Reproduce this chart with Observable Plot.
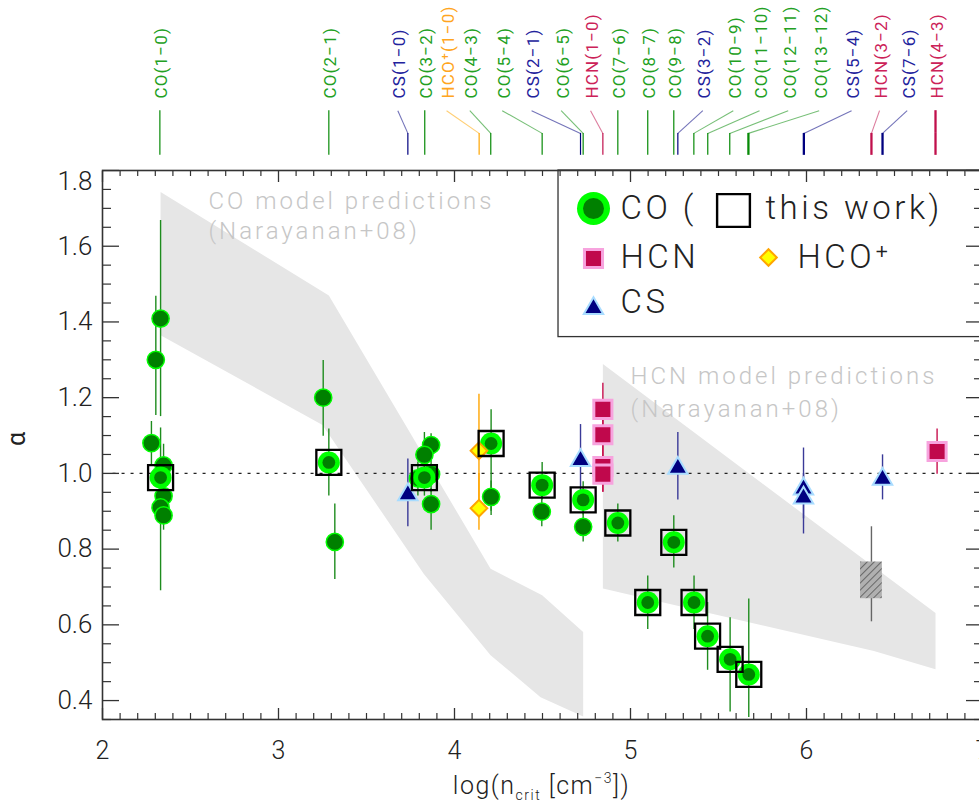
<!DOCTYPE html>
<html><head><meta charset="utf-8">
<script src="https://cdn.jsdelivr.net/npm/d3@7"></script>
<script src="https://cdn.jsdelivr.net/npm/@observablehq/plot@0.6"></script>
<style>
html,body{margin:0;padding:0;background:#fff;overflow:hidden;}
#chart{width:979px;height:805px;overflow:hidden;}
#chart svg{display:block;max-width:none;}
g.toplab text{letter-spacing:1.2px;}
g.note text{letter-spacing:3px;}
g.leg text{letter-spacing:3.5px;}
g.xlab text{letter-spacing:1.5px;}
</style></head><body><div id="chart"></div>
<script>
// ---------- data ----------
// [log n_crit, alpha, lower error, upper error]
const coPts = [
  [2.330,1.409,1.150,1.668],
  [2.303,1.300,1.153,1.468],
  [2.278,1.080,1.020,1.137],
  [2.347,1.021,0.970,1.077],
  [2.347,0.940,0.900,0.980],
  [2.330,0.910,0.870,0.950],
  [2.347,0.889,0.850,0.930],
  [3.254,1.200,1.098,1.298],
  [3.320,0.819,0.720,0.919],
  [3.867,1.075,1.040,1.105],
  [3.829,1.049,1.000,1.108],
  [3.867,0.998,0.950,1.050],
  [3.792,0.987,0.940,1.030],
  [3.867,0.919,0.850,0.960],
  [4.208,0.938,0.900,0.980],
  [4.496,0.899,0.859,0.940],
  [4.731,0.859,0.819,0.900]
];
const thisWorkPts = [
  [2.330,0.989,0.690,1.120],
  [3.286,1.029,0.940,1.117],
  [3.829,0.989,0.940,1.040],
  [4.208,1.079,0.889,1.168],
  [4.498,0.969,0.930,1.029],
  [4.731,0.930,0.890,0.978],
  [4.928,0.869,0.819,0.919],
  [5.098,0.659,0.588,0.729],
  [5.246,0.818,0.750,0.888],
  [5.361,0.659,0.588,0.729],
  [5.438,0.570,0.480,0.659],
  [5.566,0.509,0.370,0.619],
  [5.672,0.469,0.355,0.668]
];
const hcnPts = [
  [4.843,1.169,1.100,1.238],
  [4.843,1.102,1.030,1.170],
  [4.843,1.018,0.950,1.090],
  [4.843,0.998,0.950,1.040],
  [6.742,1.058,0.998,1.117]
];
const csPts = [
  [3.735,0.944,0.859,1.038],
  [4.716,1.034,0.950,1.129],
  [5.269,1.014,0.930,1.108],
  [5.983,0.959,0.880,1.067],
  [5.983,0.935,0.840,1.000],
  [6.432,0.985,0.930,1.049]
];
const hcoPts = [
  [4.139,1.060,0.920,1.209],
  [4.139,0.908,0.850,1.000]
];
// model value shown as hatched box: [x, alpha, lo, hi, boxLo, boxHi]
const modelBoxPts = [[6.369,0.717,0.608,0.859,0.669,0.766]];

// model prediction bands (Narayanan+08), polygon vertices
const coBand = [[2.330,1.743],[3.286,1.470],[4.205,0.748],[4.498,0.678],[4.731,0.581],[4.731,0.358],
                [4.489,0.409],[4.205,0.520],[3.826,0.734],[3.250,1.128],[2.330,1.365]];
const hcnBand = [[4.843,1.289],[6.733,0.631],[6.733,0.483],[6.383,0.531],[4.843,0.696]];

// transitions marked above the plot
const transNames = ["CO(1−0)","CO(2−1)","CS(1−0)","CO(3−2)","HCO⁺(1−0)","CO(4−3)","CO(5−4)","CS(2−1)",
  "CO(6−5)","HCN(1−0)","CO(7−6)","CO(8−7)","CO(9−8)","CS(3−2)","CO(10−9)","CO(11−10)","CO(12−11)",
  "CO(13−12)","CS(5−4)","HCN(3−2)","CS(7−6)","HCN(4−3)"];
const transSpecies = ["CO","CO","CS","CO","HCO","CO","CO","CS","CO","HCN","CO","CO","CO","CS","CO","CO","CO",
  "CO","CS","HCN","CS","HCN"];
const transX = [2.326,3.286,3.735,3.831,4.140,4.206,4.498,4.716,4.731,4.843,4.928,5.098,5.246,5.269,5.360,
  5.439,5.564,5.670,5.985,6.369,6.432,6.733];
const transLabelX = [2.326,3.286,3.678,3.831,3.955,4.087,4.271,4.438,4.606,4.773,4.928,5.098,5.246,5.411,
  5.584,5.733,5.896,6.072,6.256,6.415,6.572,6.733];

const xTicks = [2,3,4,5,6,7];
const yTicks = [0.4,0.6,0.8,1.0,1.2,1.4,1.6,1.8];
const xMinor = d3.range(20,71).map(d => d/10).filter(d => !xTicks.includes(d));
const yMinor = d3.range(7,37).map(d => d*0.05).filter(d => Math.abs(d*5 - Math.round(d*5)) > 1e-6);

const notes = [
  {x:2.602, y:1.697, text:"CO model predictions"},
  {x:2.602, y:1.619, text:"(Narayanan+08)"},
  {x:5.000, y:1.237, text:"HCN model predictions"},
  {x:5.000, y:1.149, text:"(Narayanan+08)"}
];
const legendLabels = ["CO (", "this work)", "HCN", "HCO⁺", "CS"];

// ---------- styling ----------
const FONT = "Roboto, 'Open Sans', 'DejaVu Sans', sans-serif";
const lineColor = {CO:"#078a07", CS:"#00007f", HCN:"#c0104c", HCO:"#ffa500"};
const textColor = {CO:"#22a022", CS:"#22229c", HCN:"#cc2258", HCO:"#ffa520"};
const Y_TXT = 1.990, Y_TOP = 1.958, Y_KNEE = 1.898, Y_BOT = 1.840;

const rows = a => a.map(([x,y,lo,hi]) => ({x,y,lo,hi}));
const CO = rows(coPts), TW = rows(thisWorkPts), HCN = rows(hcnPts), CS = rows(csPts), HCO = rows(hcoPts);
const MB = modelBoxPts.map(([x,y,lo,hi,bl,bh]) => ({x,y,lo,hi,bl,bh}));
const trans = transNames.map((name,i) => ({name, sp: transSpecies[i], x: transX[i], lx: transLabelX[i]}));
const bent = trans.filter(d => d.lx !== d.x), straight = trans.filter(d => d.lx === d.x);
const wTop = d => d.x > 5.6 ? 2.3 : 1.2;

const err = (data, stroke) => Plot.ruleX(data, {x:"x", y1:"lo", y2:"hi", stroke, strokeWidth:1.4});

const legendMarks = [];
legendMarks.push(Plot.dot([0], {frameAnchor:"top-left", dx:491, dy:38, r:16.5, fill:"#00ff00"}));
legendMarks.push(Plot.dot([0], {frameAnchor:"top-left", dx:491, dy:38, r:10.5, fill:"#008000"}));
legendMarks.push(Plot.dot([0], {frameAnchor:"top-left", dx:631, dy:40, symbol:"square", r:18.5, fill:"none", stroke:"#000", strokeWidth:2.4}));
legendMarks.push(Plot.dot([0], {frameAnchor:"top-left", dx:491, dy:88, symbol:"square", r:10.2, fill:"#c0084c", stroke:"#f7a3de", strokeWidth:3}));
legendMarks.push(Plot.dot([0], {frameAnchor:"top-left", dx:666, dy:87, symbol:"diamond2", r:7.5, fill:"#ffff00", stroke:"#ffa500", strokeWidth:2}));
legendMarks.push(Plot.dot([0], {frameAnchor:"top-left", dx:491, dy:138, symbol:"triangle", r:7.2, fill:"#000080", stroke:"#a8dcff", strokeWidth:2}));
const legendPos = [[518,38],[663,38],[518,87],[695,87],[518,132]];
legendLabels.forEach((t,i) => legendMarks.push(
  Plot.text([t], {frameAnchor:"top-left", dx:legendPos[i][0], dy:legendPos[i][1], text:d=>d,
    textAnchor:"start", lineAnchor:"middle", fontSize:33, fontWeight:300, fill:"#222", className:"leg"})));

const noFmt = () => "";
const chart = Plot.plot({
  width: 982, height: 805,
  marginLeft: 102, marginRight: 0, marginTop: 170, marginBottom: 86,
  x: {domain: [2,7], label: null},
  y: {domain: [0.35,1.8], label: null},
  style: `font-family:${FONT};background:#fff;max-width:none;overflow:visible;`,
  marks: [
    Plot.line(coBand, {x:d=>d[0], y:d=>d[1], fill:"#e6e6e6", stroke:"none"}),
    Plot.line(hcnBand, {x:d=>d[0], y:d=>d[1], fill:"#e6e6e6", stroke:"none"}),
    Plot.text(notes, {x:"x", y:"y", text:"text", textAnchor:"start", lineAnchor:"bottom",
      fontSize:24, fontWeight:300, fill:"#c6c6c6", className:"note"}),
    Plot.ruleY([1], {x1:2.06, x2:7, stroke:"#222", strokeWidth:1.3, strokeDasharray:"3,6"}),
    err(CO, "#1e8c1e"), err(TW, "#1e8c1e"), err(HCO, "#ffa500"), err(CS, "#3a3a98"), err(HCN, "#c8104e"),
    Plot.ruleX(MB, {x:"x", y1:"lo", y2:"hi", stroke:"#666", strokeWidth:1.4}),
    Plot.rect(MB, {x1:d=>d.x-0.062, x2:d=>d.x+0.062, y1:"bl", y2:"bh", fill:"#b0b0b0", className:"hatchbox"}),
    Plot.dot(CO, {x:"x", y:"y", r:8.6, fill:"#008000", stroke:"#00ff00", strokeWidth:1.5}),
    Plot.dot(TW, {x:"x", y:"y", r:11, fill:"#00ff00"}),
    Plot.dot(TW, {x:"x", y:"y", r:6.4, fill:"#008000"}),
    Plot.dot(HCO, {x:"x", y:"y", symbol:"diamond2", r:7.5, fill:"#ffff00", stroke:"#ffa500", strokeWidth:2}),
    Plot.dot(CS, {x:"x", y:"y", symbol:"triangle", r:7.2, fill:"#000080", stroke:"#a8dcff", strokeWidth:2}),
    Plot.dot(HCN, {x:"x", y:"y", symbol:"square", r:10.2, fill:"#c0084c", stroke:"#f7a3de", strokeWidth:3}),
    Plot.dot(TW, {x:"x", y:"y", symbol:"square", r:14.1, fill:"none", stroke:"#000", strokeWidth:2.3}),
    // transitions above the frame
    Plot.link(bent, {x1:"lx", y1:Y_TOP, x2:"x", y2:Y_KNEE, stroke:d=>lineColor[d.sp], strokeOpacity:0.55, strokeWidth:1.1}),
    Plot.ruleX(straight, {x:"x", y1:Y_TOP, y2:Y_KNEE, stroke:d=>lineColor[d.sp], strokeWidth:wTop}),
    Plot.ruleX(trans, {x:"x", y1:Y_KNEE, y2:Y_BOT, stroke:d=>lineColor[d.sp], strokeWidth:wTop}),
    Plot.text(trans, {x:"lx", y:Y_TXT, text:"name", rotate:-90, textAnchor:"start", lineAnchor:"middle",
      dx:2, fontSize:17, fontWeight:400, fill:d=>textColor[d.sp], className:"toplab"}),
    // legend
    Plot.rect([0], {x1:4.591, x2:7, y1:1.360, y2:1.8, fill:"#fff", stroke:"#333", strokeWidth:1.3}),
    ...legendMarks,
    // frame and axes
    Plot.frame({stroke:"#333", strokeWidth:1.6}),
    Plot.axisX(xTicks, {anchor:"bottom", tickSize:-11, tickFormat:noFmt, label:null, stroke:"#333", strokeWidth:1.3}),
    Plot.axisX(xMinor, {anchor:"bottom", tickSize:-6, tickFormat:noFmt, label:null, stroke:"#333", strokeWidth:1.2}),
    Plot.axisX(xTicks, {anchor:"top", tickSize:-11, tickFormat:noFmt, label:null, stroke:"#333", strokeWidth:1.3}),
    Plot.axisX(xMinor, {anchor:"top", tickSize:-5, tickFormat:noFmt, label:null, stroke:"#333", strokeWidth:1.2}),
    Plot.axisY(yTicks, {anchor:"left", tickSize:-17, tickFormat:noFmt, label:null, stroke:"#333", strokeWidth:1.3}),
    Plot.axisY(yMinor, {anchor:"left", tickSize:-9, tickFormat:noFmt, label:null, stroke:"#333", strokeWidth:1.2}),
    Plot.axisY(yTicks, {anchor:"right", tickSize:-17, tickFormat:noFmt, label:null, stroke:"#333", strokeWidth:1.3}),
    Plot.axisY(yMinor, {anchor:"right", tickSize:-9, tickFormat:noFmt, label:null, stroke:"#333", strokeWidth:1.2}),
    Plot.axisX(xTicks, {anchor:"bottom", tickSize:0, tickPadding:22, label:null, fontSize:25, fontWeight:300, fill:"#222", tickFormat:d=>String(d)}),
    Plot.axisY(yTicks.filter(d => d < 1.7), {anchor:"left", tickSize:0, tickPadding:10, label:null, fontSize:26, fontWeight:300, fill:"#222", tickFormat:d3.format(".1f")}),
    Plot.axisY(yTicks.filter(d => d > 1.7), {anchor:"left", tickSize:0, tickPadding:10, dy:11, label:null, fontSize:26, fontWeight:300, fill:"#222", tickFormat:d3.format(".1f")}),
    Plot.text(["α"], {frameAnchor:"left", dx:-86, dy:1, text:d=>d, rotate:-90, lineAnchor:"middle", fontSize:25, fill:"#222"}),
    Plot.text(["log(ncrit [cm-3])"], {frameAnchor:"bottom", dx:-1, dy:74, text:d=>d, lineAnchor:"bottom", fontSize:25, fontWeight:300, fill:"#222", className:"xlab"})
  ]
});

const svg = d3.select(chart);
svg.insert("defs", ":first-child").html(
  '<pattern id="hatch" patternUnits="userSpaceOnUse" width="5" height="5" patternTransform="rotate(45)">' +
  '<rect width="5" height="5" fill="#b0b0b0"/><line x1="0" y1="0" x2="0" y2="5" stroke="#555" stroke-width="1.6"/></pattern>');
svg.selectAll("g.hatchbox, g.hatchbox rect").attr("fill", "url(#hatch)");
svg.select("g.xlab text").each(function() {
  const t = d3.select(this);
  t.text(null);
  t.append("tspan").text("log(n");
  t.append("tspan").attr("dy", 6).attr("font-size", 14).text("crit");
  t.append("tspan").attr("dy", -6).text(" [cm");
  t.append("tspan").attr("dy", -11).attr("font-size", 14).text("−3");
  t.append("tspan").attr("dy", 11).text("])");
});
document.getElementById("chart").appendChild(chart);
</script></body></html>
